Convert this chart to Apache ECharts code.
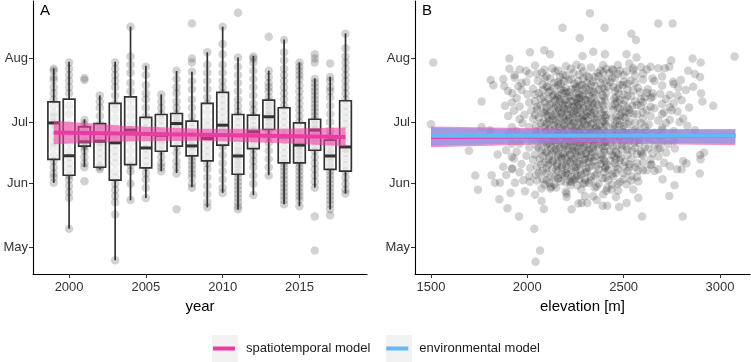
<!DOCTYPE html>
<html>
<head>
<meta charset="utf-8">
<script src="https://cdn.jsdelivr.net/npm/echarts@6/dist/echarts.min.js"></script>
<style>
  html, body { margin: 0; padding: 0; background: #fff; }
  #chart { width: 751px; height: 362px; }
</style>
</head>
<body>
<div id="chart"></div>
<script>
// y values are day of year
const monthDays = [121, 152, 182, 213];
const monthNames = ['May', 'Jun', 'Jul', 'Aug'];
const yearTicks = [2000, 2005, 2010, 2015];
const elevTicks = [1500, 2000, 2500, 3000];

// panel A: boxplot stats per year
const years = [1999, 2000, 2001, 2002, 2003, 2004, 2005, 2006, 2007, 2008, 2009, 2010, 2011, 2012, 2013, 2014, 2015, 2016, 2017, 2018];
const whiskerLow = [152.4, 130.1, 160.2, 159, 114.7, 143.9, 145, 158.1, 157.2, 150.4, 140.4, 147.5, 139.4, 146.4, 156.1, 142, 141, 150.1, 139.4, 147.2];
const q1 = [163.8, 156.1, 170.3, 160, 153.7, 161.3, 159.7, 167.8, 170.3, 165.5, 163.1, 170.8, 156.6, 169.1, 178.4, 162.1, 162.1, 168.3, 159, 158.1];
const median = [181.6, 165.6, 172.4, 172.7, 171.9, 178.1, 169.4, 175.6, 181.3, 170.4, 174, 180.5, 165.5, 177.3, 184.6, 174.8, 170.8, 178.1, 165.5, 169.9];
const q3 = [191.9, 193.2, 179.7, 181.3, 191.1, 194.3, 184.3, 185.7, 186.2, 182.5, 191.1, 196.5, 185.7, 185.4, 192.7, 189, 181.6, 183.4, 173.2, 192.4];
const whiskerHigh = [208.2, 211.4, 183.4, 195, 211.4, 228.5, 209.4, 195.5, 206.9, 206.5, 216, 228.5, 213.5, 214.2, 207, 222.3, 211.1, 203.3, 204.1, 225.2];

// panel A: observations per year (same order as years)
const obsByYear = [
  [208, 207, 204, 202.5, 199, 196, 193, 190, 186.4, 184.6, 182, 181, 178, 175, 172, 169.9, 165.9, 163, 160, 157, 155, 152.4],
  [211, 208, 205, 202, 199, 196, 190, 186, 181, 177, 172, 168, 165, 162, 159, 156, 154, 151, 148, 145, 130.1],
  [203.5, 202.5, 183, 181, 179, 177, 175, 173, 172, 171, 170, 168, 165, 162, 160, 153.2],
  [195, 192, 189, 185, 181, 178, 175, 173, 172, 170, 167, 164, 161, 160, 159],
  [211, 208, 205, 202, 199, 195, 191, 188, 184, 180, 176, 173, 171, 168, 165, 162, 158, 155, 152, 149, 146, 143, 137, 114.7],
  [228.5, 214, 210, 206, 201, 197, 193, 189, 185, 181, 178, 176, 172, 168, 164, 161, 158, 152, 144],
  [209, 205, 200, 196, 193, 189, 185, 182, 179, 176, 172, 169, 166, 163, 160, 157, 154, 150, 145],
  [195.5, 192, 189, 186, 183, 180, 177, 175, 173, 171, 168, 165, 162, 160, 158],
  [207, 203, 199, 196, 192, 189, 186, 184, 182, 181, 179, 176, 173, 170, 167, 163, 160, 157, 139.5],
  [230, 213, 211, 206.5, 202, 198, 193, 189, 185, 182, 179, 176, 173, 171, 170, 168, 165, 163, 161, 159, 157, 155, 152, 150],
  [216, 210, 206, 202, 198, 194, 191, 187, 183, 180, 176, 174, 171, 168, 165, 162, 159, 155, 151, 147, 143, 140.5],
  [228.5, 220, 215, 210, 206, 202, 199, 196, 193, 190, 187, 184, 181, 180, 178, 175, 172, 170, 166, 162, 158, 154, 150, 147.5],
  [235.3, 213.5, 209, 205, 201, 197, 193, 190, 187, 185, 182, 179, 176, 173, 170, 168, 166, 165, 163, 161, 159, 157, 155, 153, 151, 149, 147, 145, 143, 141, 139.5],
  [214, 213, 211, 207, 203, 199, 195, 191, 188, 185, 183, 180, 178, 177, 175, 173, 171, 169, 166, 163, 160, 156, 152, 146.5],
  [223.6, 207, 204, 201, 199, 197, 194, 192, 190, 188, 186, 185, 184, 182, 180, 178, 175, 172, 168, 164, 160, 156],
  [222, 216, 212, 208, 205, 202, 199, 196, 193, 190, 188, 185, 182, 179, 176, 175, 173, 170, 167, 164, 162, 160, 158, 156, 154, 152, 150, 148, 146, 144, 142],
  [211, 209, 207, 205, 203, 200, 197, 194, 191, 188, 185, 182, 179, 176, 173, 171, 170, 168, 166, 164, 162, 160, 158, 156, 154, 152, 150, 148, 146, 144, 141],
  [215, 213, 211, 203, 201, 199, 197, 195, 193, 191, 189, 187, 185, 183, 181, 179, 178, 176, 174, 172, 170, 168, 165, 162, 159, 156, 153, 150, 136, 119.5],
  [210.6, 204, 202, 199, 197, 194, 190, 186, 182, 178, 175, 173, 171, 169, 167, 165.5, 164, 162, 160, 158, 156, 154, 152, 150, 148, 146, 144, 142, 139.5, 136.6],
  [225, 218, 214, 211, 208, 205, 202, 199, 196, 193, 190, 187, 184, 181, 178, 175, 172, 169, 167, 164, 161, 158, 155, 152, 149, 147.2]
];

// panel A: spatiotemporal model trend and band
const trendYears = [1999, 2018];
const trendFit = [176.9, 174.8];
const bandYears = [1999, 2003.5, 2008.5, 2013.5, 2018];
const bandLowA = [171.2, 172.6, 172.9, 171.8, 170.2];
const bandHighA = [182.6, 180.2, 178.8, 178.8, 179.4];

// panel B: [elevation m, day of year]
const elevObs = [
  [1512,211],[1500,181],[1697,168],[1730,156],[1744,149],[1763,192],[1810,202.5],[1824,200],[1875,203],[1897,140],
  [1957,136],[2036,130],[2066,119.5],[2043,114],[2014,216],[2088,217],[2118,215],[1993,207],[2183,228],[2272,223],
  [2325,235],[2401,228],[2540,225],[2564,222],[2680,230],[2754,230],[3076,214],[2858,213],[2900,211],[2747,212],
  [2965,190],[2909,192],[2902,196],[2897,204],[2895,157],[2897,166],[2807,136],[2596,136],[2737,146],[2870,178],
  [1907,213],[1907,208],[1933,205],[1922,196],[1970,201],[1953,199.5],[1884,190],[1901,185],[1806,178],[1763,179.6],
  [2342,216.3],[2403,215.1],[2515,215.1],[2567,213.5],[2529,210.6],[2287,214.2],[2394,209.8],[2446,207.3],[2481,207],[2550,207.3],
  [2640,209],[2680,208.2],[2714,208.2],[2737,209],[2835,207],[2870,205.4],[2840,189.1],[2823,197.6],
  [2797,202.5],[2757,201.7],[2783,198.9],[2861,199.2],[2801,192.7],[2749,187.8],[2809,183.8],[2830,180.2],
  [2917,167.2],[2899,163.9],[2764,151.2],[2576,153.1],[2702,154.1],[2680,159],
  [2801,159],[2826,161.9],[2809,163],[2778,159],[2740,160.5],[2515,142.6],[2477,140.6],[2415,141.2],[2391,141.2],[2360,144.1],
  [2311,142.6],[2282,142.6],[2460,145.5],[2550,149.2],[2576,145.2],[2515,151.7],[2541,155.6],[2394,146.9],[2342,145.9],[2299,145.9],
  [2619,158.6],[2645,161.3],[2576,158.6],[2437,149.2],[2472,148.7],[2680,169.1],[2766,169.1],[2628,169.1],[2593,166.6],
  [1815,156.1],[1846,166.2],[1832,152.4],[1858,152.4],[1855,144.4],
  [1913,147.6],[1936,152.4],[1988,148.3],[2040,146.6],[2086,139.7],[2074,143.6],[1875,160.2],[1919,165.1],[1922,159.4],[1979,153.7],
  [2014,152.9],[2074,149.6],[2123,150.4],[2204,147.2],[2230,139.5],[2265,142.3],[2204,145.5],[2230,152.9],[2161,154.5],
  [2040,209.6],[2130,208.2],[2200,209.2],[2255,210],[2330,208.6],[2410,208],[2470,209.8],[2590,208.8],
  [1960,207.6],[2075,206.2],[2160,207.2],[2225,208],[2290,206.6],[2365,206],[2440,207.8],[2515,206.8],[2620,207.6],
  [2010,205.6],[2100,204.2],[2185,205.2],[2240,206],[2310,204.6],[2350,204],[2425,205.8],[2500,204.8],[2600,205.6],[2700,204.2],
  [1935,203.6],[2055,202.2],[2120,203.2],[2170,204],[2215,202.6],[2265,202],[2320,203.8],[2390,202.8],[2455,203.6],[2535,202.2],[2650,203.2],
  [1995,201.6],[2080,200.2],[2140,201.2],[2190,202],[2245,200.6],[2285,200],[2340,201.8],[2380,200.8],[2430,201.6],[2480,200.2],[2560,201.2],[2660,202],[2760,200.6],
  [1880,199.6],[2030,198.2],[2105,199.2],[2160,200],[2200,198.6],[2230,198],[2270,199.8],[2305,198.8],[2350,199.6],[2400,198.2],[2445,199.2],[2495,200],[2575,198.6],[2625,198],[2700,199.8],
  [1970,197.6],[2060,196.2],[2120,197.2],[2175,198],[2215,196.6],[2255,196],[2290,197.8],[2330,196.8],[2370,197.6],[2410,196.2],[2455,197.2],[2520,198],[2585,196.6],[2650,196],
  [2000,195.6],[2085,194.2],[2140,195.2],[2180,196],[2220,194.6],[2250,194],[2285,195.8],[2320,194.8],[2360,195.6],[2400,194.2],[2740,195.2],[2475,196],[2540,194.6],[2610,194],[2690,195.8],[2780,194.8],
  [1945,193.6],[2040,192.2],[2110,193.2],[2155,194],[2195,192.6],[2235,192],[2270,193.8],[2305,192.8],[2345,193.6],[2385,192.2],[2720,193.2],[2460,194],[2505,192.6],[2560,192],[2640,193.8],
  [2010,191.6],[2070,190.2],[2130,191.2],[2170,192],[2210,190.6],[2245,190],[2280,191.8],[2315,190.8],[2355,191.6],[2395,190.2],[2760,191.2],[2465,192],[2500,190.6],[2545,190],[2600,191.8],[2700,190.8],
  [1960,189.6],[2050,188.2],[2100,189.2],[2150,190],[2190,188.6],[2225,188],[2260,189.8],[2295,188.8],[2335,189.6],[2375,188.2],[2740,189.2],[2440,190],[2480,188.6],[2530,188],[2590,189.8],[2660,188.8],
  [2020,187.6],[2080,186.2],[2120,187.2],[2165,188],[2205,186.6],[2240,186],[2275,187.8],[2310,186.8],[2350,187.6],[2385,186.2],[2780,187.2],[2445,188],[2490,186.6],[2550,186],[2620,187.8],[2710,186.8],
  [1985,185.6],[2060,184.2],[2105,185.2],[2145,186],[2185,184.6],[2220,184],[2255,185.8],[2290,184.8],[2330,185.6],[2365,184.2],[2400,185.2],[2700,186],[2460,184.6],[2510,184],[2570,185.8],[2640,184.8],
  [2030,183.6],[2085,182.2],[2130,183.2],[2170,184],[2210,182.6],[2245,182],[2280,183.8],[2315,182.8],[2350,183.6],[2390,182.2],[2740,183.2],[2440,184],[2480,182.6],[2530,182],[2600,183.8],[2680,182.8],
  [1975,181.6],[2045,180.2],[2100,181.2],[2150,182],[2190,180.6],[2230,180],[2265,181.8],[2300,180.8],[2340,181.6],[2375,180.2],[2405,181.2],[2790,182],[2455,180.6],[2500,180],[2560,181.8],[2630,180.8],[2720,181.6],
  [2010,179.6],[2070,178.2],[2120,179.2],[2165,180],[2205,178.6],[2245,178],[2285,179.8],[2325,178.8],[2360,179.6],[2395,178.2],[2700,179.2],[2445,180],[2490,178.6],[2545,178],[2610,179.8],
  [1945,177.6],[2040,176.2],[2095,177.2],[2140,178],[2185,176.6],[2225,176],[2260,177.8],[2300,176.8],[2340,177.6],[2380,176.2],[2410,177.2],[2700,178],[2465,176.6],[2515,176],[2580,177.8],[2660,176.8],[2760,177.6],
  [1990,175.6],[2060,174.2],[2115,175.2],[2160,176],[2200,174.6],[2240,174],[2275,175.8],[2315,174.8],[2355,175.6],[2390,174.2],[2680,175.2],[2440,176],[2480,174.6],[2530,174],[2600,175.8],
  [2025,173.6],[2085,172.2],[2135,173.2],[2180,174],[2220,172.6],[2255,172],[2295,173.8],[2335,172.8],[2370,173.6],[2400,172.2],[2760,173.2],[2450,174],[2495,172.6],[2555,172],[2630,173.8],[2700,172.8],
  [1960,171.6],[2050,170.2],[2105,171.2],[2150,172],[2195,170.6],[2235,170],[2270,171.8],[2310,170.8],[2350,171.6],[2390,170.2],[2730,171.2],[2430,172],[2465,170.6],[2515,170],[2580,171.8],[2660,170.8],
  [2010,169.6],[2075,168.2],[2125,169.2],[2170,170],[2210,168.6],[2250,168],[2290,169.8],[2330,168.8],[2370,169.6],[2400,168.2],[2690,169.2],[2445,170],[2490,168.6],[2545,168],[2610,169.8],
  [1945,167.6],[2040,166.2],[2095,167.2],[2140,168],[2185,166.6],[2225,166],[2265,167.8],[2305,166.8],[2345,167.6],[2385,166.2],[2720,167.2],[2430,168],[2470,166.6],[2520,166],[2590,167.8],[2650,166.8],
  [1995,165.6],[2065,164.2],[2115,165.2],[2160,166],[2200,164.6],[2240,164],[2280,165.8],[2320,164.8],[2360,165.6],[2395,164.2],[2680,165.2],[2440,166],[2485,164.6],[2540,164],[2600,165.8],
  [2030,163.6],[2090,162.2],[2135,163.2],[2180,164],[2220,162.6],[2260,162],[2300,163.8],[2345,162.8],[2385,163.6],[2710,162.2],[2430,163.2],[2460,164],[2505,162.6],[2570,162],[2640,163.8],
  [1970,161.6],[2050,160.2],[2110,161.2],[2155,162],[2200,160.6],[2245,160],[2290,161.8],[2335,160.8],[2380,161.6],[2405,160.2],[2640,161.2],[2455,162],[2500,160.6],[2560,160],
  [2015,159.6],[2080,158.2],[2130,159.2],[2180,160],[2230,158.6],[2275,158],[2320,159.8],[2370,158.8],[2405,159.6],[2660,158.2],[2470,159.2],[2530,160],[2600,158.6],
  [1960,157.6],[2045,156.2],[2100,157.2],[2160,158],[2210,156.6],[2260,156],[2310,157.8],[2360,156.8],[2400,157.6],[1890,156.2],[2460,157.2],[2520,158],
  [2010,155.6],[2080,154.2],[2140,155.2],[2195,156],[2250,154.6],[2300,154],[2350,155.8],[2405,154.8],[2445,155.6],[2500,154.2],[2570,155.2],
  [2050,153.6],[2115,152.2],[2175,153.2],[2240,154],[2300,152.6],[2370,152],[2420,153.8],[2480,152.8],[2540,153.6],
  [2090,151.6],[2150,150.2],[2225,151.2],[2290,152],[2360,150.6],[2415,150],[2470,151.8],
  [2120,149.6],[2200,148.2],[2280,149.2],[2350,150],[2410,148.6],
  [2090,207.5],[2280,208.7],[2380,207.1],[2550,208.3],
  [2050,205.5],[2145,206.7],[2270,205.1],[2395,206.3],[2470,205.5],
  [2090,203.5],[2200,204.7],[2290,203.1],[2370,204.3],[2440,203.5],[2560,204.7],
  [2160,201.5],[2230,202.7],[2310,201.1],[2410,202.3],[2500,201.5],[2600,202.7],
  [2100,199.5],[2175,200.7],[2255,199.1],[2330,200.3],[2420,199.5],[2520,200.7],
  [2080,197.5],[2140,198.7],[2190,197.1],[2250,198.3],[2320,197.5],[2390,198.7],[1900,197.1],[2470,198.3],[2550,197.5],
  [2040,195.5],[2110,196.7],[2160,195.1],[2200,196.3],[2270,195.5],[2345,196.7],[2390,195.1],[2620,196.3],[2500,195.5],
  [2070,193.5],[2130,194.7],[2170,193.1],[2210,194.3],[2260,193.5],[2290,194.7],[2330,193.1],[2650,194.3],[2450,193.5],[2520,194.7],[2590,193.1],
  [2090,191.5],[2145,192.7],[2185,191.1],[2225,192.3],[2260,191.5],[2300,192.7],[2340,191.1],[2405,192.3],[1920,191.5],[2480,192.7],
  [2050,189.5],[2115,190.7],[2160,189.1],[2195,190.3],[2235,189.5],[2270,190.7],[2320,189.1],[2365,190.3],[2640,189.5],[2455,190.7],[2520,189.1],[2570,190.3],
  [2100,187.5],[2140,188.7],[2180,187.1],[2210,188.3],[2250,187.5],[2290,188.7],[2330,187.1],[2400,188.3],[1930,187.5],[2470,188.7],[2510,187.1],
  [2040,185.5],[2090,186.7],[2130,185.1],[2175,186.3],[2215,185.5],[2260,186.7],[2300,185.1],[2345,186.3],[2410,185.5],[2600,186.7],[2480,185.1],[2530,186.3],
  [2110,183.5],[2150,184.7],[2190,183.1],[2235,184.3],[2270,183.5],[2310,184.7],[2360,183.1],[2405,184.3],[1960,183.5],[2500,184.7],
  [2070,181.5],[2115,182.7],[2160,181.1],[2200,182.3],[2240,181.5],[2290,182.7],[2330,181.1],[2400,182.3],[2590,181.5],[2465,182.7],[2520,181.1],
  [2090,179.5],[2140,180.7],[2180,179.1],[2225,180.3],[2270,179.5],[2310,180.7],[2355,179.1],[2410,180.3],[1920,179.5],[2480,180.7],
  [2045,177.5],[2110,178.7],[2150,177.1],[2195,178.3],[2240,177.5],[2280,178.7],[2320,177.1],[2370,178.3],[2620,177.5],[2450,178.7],[2500,177.1],[2560,178.3],
  [2100,175.5],[2160,176.7],[2205,175.1],[2245,176.3],[2285,175.5],[2325,176.7],[2400,175.1],[1900,176.3],[2460,175.5],[2520,176.7],
  [2070,173.5],[2125,174.7],[2170,173.1],[2215,174.3],[2260,173.5],[2300,174.7],[2345,173.1],[2395,174.3],[2580,173.5],[2480,174.7],
  [2100,171.5],[2140,172.7],[2190,171.1],[2230,172.3],[2275,171.5],[2320,172.7],[2365,171.1],[2410,172.3],[1920,171.5],[2530,172.7],
  [2060,169.5],[2120,170.7],[2165,169.1],[2210,170.3],[2250,169.5],[2295,170.7],[2340,169.1],[2405,170.3],[2560,169.5],[2490,170.7],
  [2100,167.5],[2150,168.7],[2195,167.1],[2235,168.3],[2280,167.5],[2320,168.7],[2400,167.1],[1890,168.3],[2460,167.5],[2520,168.7],
  [2080,165.5],[2130,166.7],[2175,165.1],[2220,166.3],[2260,165.5],[2305,166.7],[2350,165.1],[2570,166.3],[2450,165.5],
  [2110,163.5],[2160,164.7],[2205,163.1],[2250,164.3],[2290,163.5],[2330,164.7],[2400,163.1],[1930,164.3],[2480,163.5],
  [2070,161.5],[2130,162.7],[2180,161.1],[2225,162.3],[2270,161.5],[2320,162.7],[2415,161.1],[2600,162.3],[2530,161.5],
  [2100,159.5],[2155,160.7],[2205,159.1],[2255,160.3],[2305,159.5],[2360,160.7],[1920,159.1],[2460,160.3],
  [2060,157.5],[2150,158.7],[2200,157.1],[2250,158.3],[2300,157.5],[2420,158.7],[2500,157.1],
  [2120,155.5],[2180,156.7],[2230,155.1],[2280,156.3],[2330,155.5],[2440,156.7],
  [2100,153.5],[2160,154.7],[2220,153.1],[2270,154.3],[2330,153.5],[2390,154.7],
  [2140,151.5],[2200,152.7],[2260,151.1],[2320,152.3],[2440,151.5]
];

// panel B: model fits
const fitElev = [1500, 3080];
const spatioFitB = [174.8, 175.3];
const envFitB = [175.4, 175.4];
const bandElev = [1500, 2300, 3080];
const spatioLowB = [169.7, 171.7, 170.7];
const spatioHighB = [179.8, 178.7, 178.6];
const envLowB = [170.5, 172.3, 171.4];
const envHighB = [179.2, 178.2, 178.1];

const pink = '#e93ca2';
const blue = '#64b8f6';
const font = 'Liberation Sans, Arial, sans-serif';

const chart = echarts.init(document.getElementById('chart'));

function monthLabel(v) {
  const i = monthDays.indexOf(v);
  return i >= 0 ? monthNames[i] : '';
}

function makeYAxis(gridIndex) {
  return {
    type: 'value', gridIndex: gridIndex, min: 108, max: 241,
    axisLine: { show: true, lineStyle: { color: '#000', width: 1.1 } },
    axisTick: { show: true, length: 4, customValues: monthDays, lineStyle: { color: '#333' } },
    axisLabel: { customValues: monthDays, formatter: monthLabel, margin: 5, fontSize: 13, color: '#333', fontFamily: font },
    splitLine: { show: false }
  };
}

function makeXAxis(gridIndex, min, max, ticks, name) {
  return {
    type: 'value', gridIndex: gridIndex, min: min, max: max,
    name: name, nameLocation: 'middle', nameGap: 20,
    nameTextStyle: { fontSize: 15, color: '#000', fontFamily: font },
    axisLine: { show: true, onZero: false, lineStyle: { color: '#000', width: 1.1 } },
    axisTick: { show: true, length: 4, customValues: ticks, lineStyle: { color: '#333' } },
    axisLabel: {
      customValues: ticks, margin: 7, fontSize: 13, color: '#333', fontFamily: font,
      formatter: function (v) { return String(v); }
    },
    splitLine: { show: false }
  };
}

const boxHalf = 0.38;
function renderBox(params, api) {
  const x = api.value(0);
  const lo = api.coord([x, api.value(1)]);
  const b1 = api.coord([x - boxHalf, api.value(2)]);
  const mL = api.coord([x - boxHalf, api.value(3)]);
  const mR = api.coord([x + boxHalf, api.value(3)]);
  const b3 = api.coord([x + boxHalf, api.value(4)]);
  const hi = api.coord([x, api.value(5)]);
  const st = { stroke: '#333', lineWidth: 1.7 };
  return {
    type: 'group',
    children: [
      { type: 'line', shape: { x1: lo[0], y1: lo[1], x2: lo[0], y2: b1[1] }, style: st },
      { type: 'line', shape: { x1: hi[0], y1: hi[1], x2: hi[0], y2: b3[1] }, style: st },
      { type: 'rect', shape: { x: b1[0], y: b3[1], width: b3[0] - b1[0], height: b1[1] - b3[1] },
        style: { fill: 'rgba(255,255,255,0.62)', stroke: '#333', lineWidth: 1.7 } },
      { type: 'line', shape: { x1: mL[0], y1: mL[1], x2: mR[0], y2: mR[1] }, style: { stroke: '#333', lineWidth: 3 } }
    ]
  };
}

function ribbon(xs, lo, hi, fill) {
  return function (params, api) {
    const pts = [];
    for (let i = 0; i < xs.length; i++) pts.push(api.coord([xs[i], hi[i]]));
    for (let i = xs.length - 1; i >= 0; i--) pts.push(api.coord([xs[i], lo[i]]));
    return { type: 'polygon', shape: { points: pts }, style: { fill: fill } };
  };
}

const pointsA = [];
years.forEach(function (y, i) {
  obsByYear[i].forEach(function (d) { pointsA.push([y, d]); });
});
const boxData = years.map(function (y, i) {
  return [y, whiskerLow[i], q1[i], median[i], q3[i], whiskerHigh[i]];
});

chart.setOption({
  animation: false,
  textStyle: { fontFamily: font },
  grid: [
    { left: 33, right: 384, top: 1, bottom: 88 },
    { left: 415, right: 1, top: 1, bottom: 88 }
  ],
  xAxis: [
    makeXAxis(0, 1997.65, 2019.4, yearTicks, 'year'),
    makeXAxis(1, 1417, 3156, elevTicks, 'elevation [m]')
  ],
  yAxis: [makeYAxis(0), makeYAxis(1)],
  legend: {
    left: 213, top: 342, padding: 0,
    itemWidth: 22, itemHeight: 4, itemGap: 16, icon: 'rect',
    textStyle: { fontSize: 13, color: '#1a1a1a', padding: [0, 0, 0, 6] },
    data: ['spatiotemporal model', 'environmental model']
  },
  graphic: [
    { type: 'rect', left: 212, top: 335, shape: { width: 26, height: 27 }, style: { fill: '#f2f2f2' }, z: 0 },
    { type: 'rect', left: 386, top: 335, shape: { width: 26, height: 27 }, style: { fill: '#f2f2f2' }, z: 0 },
    { type: 'text', left: 40, top: 3, style: { text: 'A', fill: '#000', font: '15px ' + font } },
    { type: 'text', left: 422, top: 3, style: { text: 'B', fill: '#000', font: '15px ' + font } }
  ],
  series: [
    {
      type: 'scatter', xAxisIndex: 0, yAxisIndex: 0, data: pointsA,
      symbolSize: 8.5, itemStyle: { color: 'rgba(0,0,0,0.22)' }, silent: true, z: 2
    },
    {
      type: 'custom', xAxisIndex: 0, yAxisIndex: 0, data: boxData,
      encode: { x: 0, y: [1, 2, 3, 4, 5] }, renderItem: renderBox, silent: true, z: 3
    },
    {
      type: 'custom', xAxisIndex: 0, yAxisIndex: 0, data: [[bandYears[0], bandLowA[0]]],
      renderItem: ribbon(bandYears, bandLowA, bandHighA, 'rgba(236,64,164,0.6)'), silent: true, z: 4
    },
    {
      name: 'spatiotemporal model', type: 'line', xAxisIndex: 0, yAxisIndex: 0,
      data: trendYears.map(function (y, i) { return [y, trendFit[i]]; }),
      showSymbol: false, lineStyle: { color: pink, width: 4 }, itemStyle: { color: pink }, silent: true, z: 5
    },
    {
      type: 'scatter', xAxisIndex: 1, yAxisIndex: 1, data: elevObs,
      symbolSize: 8.5, itemStyle: { color: 'rgba(0,0,0,0.22)' }, silent: true, z: 2
    },
    {
      type: 'custom', xAxisIndex: 1, yAxisIndex: 1, data: [[bandElev[0], spatioLowB[0]]],
      renderItem: ribbon(bandElev, spatioLowB, spatioHighB, 'rgba(235,70,170,0.6)'), silent: true, z: 4
    },
    {
      type: 'custom', xAxisIndex: 1, yAxisIndex: 1, data: [[bandElev[0], envLowB[0]]],
      renderItem: ribbon(bandElev, envLowB, envHighB, 'rgba(100,160,240,0.55)'), silent: true, z: 4
    },
    {
      name: 'spatiotemporal model', type: 'line', xAxisIndex: 1, yAxisIndex: 1,
      data: fitElev.map(function (e, i) { return [e, spatioFitB[i]]; }),
      showSymbol: false, lineStyle: { color: pink, width: 4 }, itemStyle: { color: pink }, silent: true, z: 5
    },
    {
      name: 'environmental model', type: 'line', xAxisIndex: 1, yAxisIndex: 1,
      data: fitElev.map(function (e, i) { return [e, envFitB[i]]; }),
      showSymbol: false, lineStyle: { color: blue, width: 4 }, itemStyle: { color: blue }, silent: true, z: 6
    }
  ]
});
</script>
</body>
</html>
